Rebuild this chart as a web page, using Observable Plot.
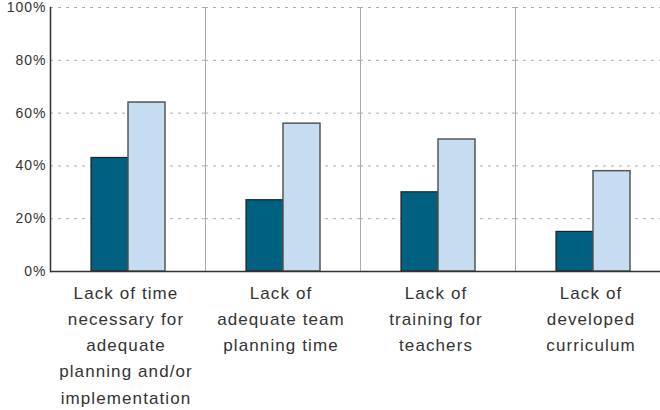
<!DOCTYPE html>
<html>
<head>
<meta charset="utf-8">
<script src="https://cdn.jsdelivr.net/npm/d3@7"></script>
<script src="https://cdn.jsdelivr.net/npm/@observablehq/plot@0.6"></script>
<style>
  html, body { margin: 0; padding: 0; background: #fff; }
  #chart svg { font-family: "Liberation Sans", Arial, sans-serif; }
  #chart svg text { letter-spacing: 1px; }
  #chart svg g[aria-label^="fx-axis"] text { letter-spacing: 1.1px; }
</style>
</head>
<body>
<div id="chart"></div>
<script>
const categories = ["time", "team", "training", "curriculum"];
const categoryLabels = [
  "Lack of time\nnecessary for\nadequate\nplanning and/or\nimplementation",
  "Lack of\nadequate team\nplanning time",
  "Lack of\ntraining for\nteachers",
  "Lack of\ndeveloped\ncurriculum"
];
const series = ["A", "B"];
const seriesA = [43, 27, 30, 15];
const seriesB = [64, 56, 50, 38];
const yTicks = [0, 20, 40, 60, 80, 100];
const seriesColors = ["#00607f", "#c6ddf1"];

const data = [];
categories.forEach((c, i) => {
  data.push({category: c, series: series[0], value: seriesA[i]});
  data.push({category: c, series: series[1], value: seriesB[i]});
});
const labelOf = new Map(categories.map((c, i) => [c, categoryLabels[i]]));

const chart = Plot.plot({
  width: 660,
  height: 410,
  marginTop: 7,
  marginBottom: 139,
  marginLeft: 50,
  marginRight: 0,
  style: {fontFamily: "Liberation Sans, Arial, sans-serif", color: "#333", background: "#fff"},
  fx: {domain: categories, range: [50, 670], padding: 0, label: null},
  x: {domain: series, paddingInner: 0, paddingOuter: 1.04, axis: null},
  y: {domain: [0, 100], label: null},
  color: {domain: series, range: seriesColors},
  marks: [
    Plot.gridY(yTicks, {stroke: "#aaa", strokeOpacity: 1, strokeDasharray: "3,5", strokeWidth: 1}),
    Plot.frame({anchor: "left", stroke: "#aaa", strokeOpacity: 1, strokeWidth: 1}),
    Plot.barY(data.filter(d => d.series === series[0]), {fx: "category", x: "series", y: "value", fill: "series", stroke: "#222", strokeWidth: 1.2}),
    Plot.barY(data.filter(d => d.series === series[1]), {fx: "category", x: "series", y: "value", fill: "series", stroke: "#555", strokeWidth: 1.5}),
    Plot.ruleY([0], {stroke: "#333", strokeWidth: 1.5}),
    Plot.axisY(yTicks, {tickSize: 0, tickPadding: 4, fontSize: 14, fill: "#333", tickFormat: d => d + "%", label: null}),
    Plot.axisFx({anchor: "bottom", tickSize: 0, tickPadding: 9.5, dx: -2, fontSize: 17, lineHeight: 1.53, fill: "#333", tickFormat: d => labelOf.get(d), label: null})
  ]
});
document.getElementById("chart").appendChild(chart);

// Make the left-most facet's frame line (the y-axis line) dark
const frameLines = Array.from(chart.querySelectorAll('g[aria-label="frame"] line'));
if (frameLines.length) {
  const leftmost = frameLines.reduce((a, b) =>
    a.getBoundingClientRect().left <= b.getBoundingClientRect().left ? a : b);
  leftmost.setAttribute("stroke", "#333");
  leftmost.setAttribute("stroke-width", "1.5");
  leftmost.setAttribute("stroke-opacity", "1");
}
</script>
</body>
</html>
